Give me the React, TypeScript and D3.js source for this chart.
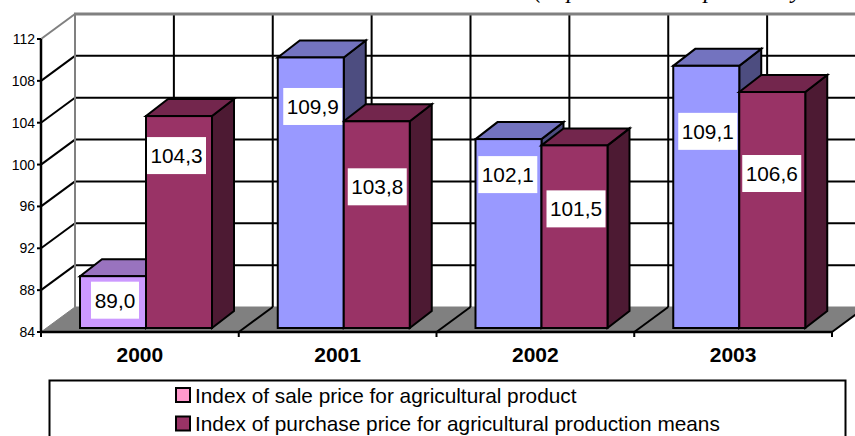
import React from "react";
import * as d3 from "d3";

const categories = ["2000", "2001", "2002", "2003"];
const salePrice = [89.0, 109.9, 102.1, 109.1];
const purchasePrice = [104.3, 103.8, 101.5, 106.6];
const valueTicks = [84, 88, 92, 96, 100, 104, 108, 112];
const legendLabels = [
  "Index of sale price for agricultural product",
  "Index of purchase price for agricultural production means",
];
const subtitle = "(in percent to the previous year";
const saleLabelNudge = [[2, 24.5], [2, 49.5], [-0.7, 36], [1.5, 66]];
const purchaseLabelNudge = [[-2.5, 40], [0.5, 66], [1.5, 64], [-0.5, 82]];

const W = 855, H = 436;
const DX = 34, DY = -25;
const BDX = 22, BDY = -17;
const FONT = "'Liberation Sans', Arial, sans-serif";

const y = d3.scaleLinear().domain([84, 112]).range([332, 39]);
const x = d3.scaleBand<string>().domain(categories).range([41, 832]);
const halfSteps = d3.range(0, categories.length * 2 + 1);

function fmt(v: number) {
  return v.toFixed(1).replace(".", ",");
}

const poly = d3.line<[number, number]>().curve(d3.curveLinearClosed);

function Bar({ left, w, value, front, top, side }: any) {
  const base = 328;
  const t = y(value) - 3.5;
  return (
    <g stroke="#000" strokeWidth={2} strokeLinejoin="miter">
      <path d={poly([[left + w, base], [left + w + BDX, base + BDY], [left + w + BDX, t + BDY], [left + w, t]]) as string} fill={side} />
      <path d={poly([[left, t], [left + BDX, t + BDY], [left + w + BDX, t + BDY], [left + w, t]]) as string} fill={top} />
      <rect x={left} y={t} width={w} height={base - t} fill={front} />
    </g>
  );
}

function DataLabel({ cx, cy, value }: any) {
  const text = fmt(value);
  const w = text.length === 5 ? 59 : 48;
  return (
    <g>
      <rect x={cx - w / 2} y={cy - 18.5} width={w} height={37} fill="#fff" />
      <text x={cx} y={cy + 7.5} textAnchor="middle" fontFamily={FONT} fontSize={20.8} fill="#000">{text}</text>
    </g>
  );
}

export default function App() {
  const band = x.bandwidth();
  const barW = 66;
  const gapLeft = 39;
  const backLeft = 41 + DX;
  const backRight = 832 + DX;
  const floorY = y(84);
  return (
    <svg width={W} height={H} style={{ position: "absolute", left: 0, top: 0, display: "block", background: "#fff" }}>
      <text x={534} y={-2} fontFamily="'Liberation Serif', serif" fontStyle="italic" fontSize={24} fill="#000">{subtitle}</text>
      {/* floor */}
      <path d={poly([[41, floorY], [backLeft, floorY + DY], [backRight, floorY + DY], [832, floorY]]) as string} fill="#808080" stroke="#808080" strokeWidth={1} />
      {/* back grid: vertical */}
      {halfSteps.slice(1).map((i) => {
        const gx = backLeft + (i * band) / 2;
        return <line key={i} x1={gx} x2={gx} y1={14} y2={floorY + DY} stroke="#000" strokeWidth={2} />;
      })}
      {/* horizontal grid with side-wall skew */}
      {valueTicks.slice(1, -1).map((t) => (
        <g key={t} fill="none">
          <line x1={backLeft} x2={backRight} y1={y(t) + DY} y2={y(t) + DY} stroke="#000" strokeWidth={2} />
          <line x1={41} x2={backLeft} y1={y(t)} y2={y(t) + DY} stroke="#000" strokeWidth={2} />
        </g>
      ))}
      {/* walls */}
      <line x1={backLeft} x2={backLeft} y1={14} y2={floorY + DY} stroke="#808080" strokeWidth={2} />
      <line x1={backLeft - 1} x2={W} y1={14} y2={14} stroke="#808080" strokeWidth={3} />
      <line x1={41} x2={backLeft} y1={y(112)} y2={14} stroke="#808080" strokeWidth={2} />
      {/* floor skew lines */}
      {categories.slice(1).concat(["end"]).map((c, i) => {
        const fx = 41 + (i + 1) * band;
        return <line key={c} x1={fx} x2={fx + DX} y1={floorY} y2={floorY + DY} stroke="#000" strokeWidth={2} />;
      })}
      {/* bars */}
      {categories.map((c, i) => {
        const left = (x(c) as number) + gapLeft;
        return (
          <g key={c}>
            <Bar left={left} w={barW} value={salePrice[i]}
              front={i === 0 ? "#CC99FF" : "#9999FF"} top={i === 0 ? "#9973BF" : "#7373BF"} side={i === 0 ? "#664D80" : "#4D4D80"} />
            <Bar left={left + barW} w={barW} value={purchasePrice[i]} front="#993366" top="#73264D" side="#4D1A33" />
          </g>
        );
      })}
      {/* data labels */}
      {categories.map((c, i) => {
        const left = (x(c) as number) + gapLeft;
        return (
          <g key={c}>
            <DataLabel cx={left + barW / 2 + saleLabelNudge[i][0]} cy={y(salePrice[i]) - 4 + saleLabelNudge[i][1]} value={salePrice[i]} />
            <DataLabel cx={left + (barW * 3) / 2 + purchaseLabelNudge[i][0]} cy={y(purchasePrice[i]) - 4 + purchaseLabelNudge[i][1]} value={purchasePrice[i]} />
          </g>
        );
      })}
      {/* axes */}
      <line x1={41} x2={41} y1={y(112)} y2={floorY} stroke="#000" strokeWidth={2.5} />
      <line x1={41} x2={832} y1={floorY} y2={floorY} stroke="#000" strokeWidth={2.5} />
      {valueTicks.map((t) => (
        <g key={t}>
          <line x1={37} x2={41} y1={y(t)} y2={y(t)} stroke="#000" strokeWidth={2} />
          <text x={35} y={y(t) + 5} textAnchor="end" fontFamily={FONT} fontSize={14} fill="#000">{t}</text>
        </g>
      ))}
      {d3.range(0, categories.length + 1).map((i) => {
        const fx = 41 + i * band;
        return <line key={i} x1={fx} x2={fx} y1={floorY} y2={floorY + 5} stroke="#000" strokeWidth={2} />;
      })}
      {categories.map((c) => (
        <text key={c} x={(x(c) as number) + band / 2} y={362} textAnchor="middle" fontFamily={FONT} fontWeight="bold" fontSize={21} fill="#000">{c}</text>
      ))}
      {/* legend */}
      <rect x={49.5} y={380.5} width={796} height={70} fill="#fff" stroke="#000" strokeWidth={2} />
      {legendLabels.map((l, i) => (
        <g key={l}>
          <rect x={176} y={388 + i * 28.5} width={14} height={14} fill={i === 0 ? "#FF99CC" : "#993366"} stroke="#000" strokeWidth={2} />
          <text x={195} y={402.5 + i * 28.5} fontFamily={FONT} fontSize={20.8} fill="#000">{l}</text>
        </g>
      ))}
    </svg>
  );
}
